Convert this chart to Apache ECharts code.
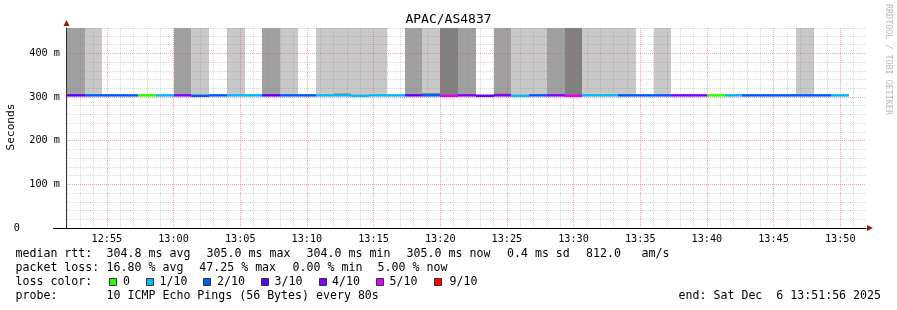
<!DOCTYPE html>
<html>
<head>
<meta charset="utf-8">
<script src="https://cdn.jsdelivr.net/npm/echarts@6/dist/echarts.min.js"></script>
<style>
  html, body { margin: 0; padding: 0; background: #fff; }
  #main { width: 897px; height: 310px; }
</style>
</head>
<body>
<div id="main"></div>
<script>
// 80 s RRD steps, first one starting at 12:52:00 (seconds of day)
const firstStep = '12:52:00';
const stepSeconds = 80;
const axisStart = '12:51:56';
const axisEnd = '13:51:56';

// median rtt per step, ms
const medianMs = [305, 305, 305, 305, 305, 305, 305, 304, 305, 305,
                  305, 305, 305, 305, 305, 305, 304, 305, 305, 305,
                  305, 304, 305, 304, 305, 304, 305, 305, 304, 305,
                  305, 305, 305, 305, 305, 305, 305, 305, 305, 305,
                  305, 305, 305, 305];
// lost pings out of 10 per step
const lossPings = [3, 2, 2, 2, 0, 1, 4, 2, 2, 1,
                   1, 3, 2, 2, 1, 1, 1, 1, 1, 3,
                   2, 5, 4, 3, 4, 1, 2, 4, 5, 1,
                   1, 2, 2, 2, 4, 4, 0, 1, 2, 2,
                   2, 2, 2, 1];
// smoke shade per step: 0 none, 1 light, 2 medium, 3 dark
const smokeShade = [2, 1, 0, 0, 0, 0, 2, 1, 0, 1,
                    0, 2, 1, 0, 1, 1, 1, 1, 0, 2,
                    1, 3, 2, 0, 2, 1, 1, 2, 3, 1,
                    1, 1, 0, 1, 0, 0, 0, 0, 0, 0,
                    0, 1, 0, 0];
// highest ping per step where it shows above the median, ms (0 = none)
const topPingMs = [0, 0, 0, 0, 0, 0, 0, 0, 0, 0,
                   0, 0, 0, 0, 0, 308, 0, 0, 0, 0,
                   309, 0, 0, 0, 308, 0, 0, 0, 0, 0,
                   0, 0, 0, 0, 0, 0, 0, 0, 0, 0,
                   0, 0, 0, 0];

const timeLabels = ['12:55', '13:00', '13:05', '13:10', '13:15', '13:20',
                    '13:25', '13:30', '13:35', '13:40', '13:45', '13:50'];
const yLabelValues = [0, 100, 200, 300, 400];
const yMax = 458;

const lossBins = [0, 1, 2, 3, 4, 5, 9];
const lossNames = ['0', '1/10', '2/10', '3/10', '4/10', '5/10', '9/10'];
const lossColors = ['#26ff00', '#00b8ff', '#0059ff', '#5e00ff', '#7e00ff', '#dd00ff', '#ff0000'];
const shadeColors = [null, '#c8c8c8', '#a0a0a0', '#808080'];

const minorGrid = 'rgba(140,140,140,0.35)', majorGrid = 'rgba(230,80,80,0.5)';

function toSec(s) {
  const p = s.split(':').map(Number);
  return p[0] * 3600 + p[1] * 60 + (p[2] || 0);
}
function fmt(sec) {
  const h = Math.floor(sec / 3600), m = Math.floor(sec / 60) % 60;
  return String(h).padStart(2, '0') + ':' + String(m).padStart(2, '0');
}
function lossColor(n) {
  let c = lossColors[0];
  lossBins.forEach((b, i) => { if (n >= b) c = lossColors[i]; });
  return c;
}

const t0 = toSec(firstStep);
const xMin = toSec(axisStart), xMax = toSec(axisEnd);

let minuteTicks = [];
for (let t = Math.ceil(xMin / 60) * 60; t <= xMax; t += 60) minuteTicks.push(t);
// colour index 0 is the first minute tick; every 5th minute is red
const firstRed = minuteTicks.findIndex(t => t % 300 === 0);
let xGridColors = [minorGrid, minorGrid, minorGrid, minorGrid, minorGrid];
xGridColors[firstRed % 5] = majorGrid;

let smokeData = [], bandData = [], lineData = [];
medianMs.forEach((v, i) => {
  const s = t0 + i * stepSeconds, e = s + stepSeconds;
  if (smokeShade[i]) smokeData.push([s, e, v, smokeShade[i]]);
  if (topPingMs[i]) bandData.push([s, e, v, topPingMs[i]]);
  lineData.push([s, e, v, lossPings[i]]);
});

function rectBetween(api, x0, x1, y0, y1) {
  const a = api.coord([x0, y1]), b = api.coord([x1, y0]);
  const left = Math.round(a[0]), right = Math.round(b[0]);
  return { x: left, y: a[1], width: right - left, height: b[1] - a[1] };
}

const chart = echarts.init(document.getElementById('main'));
const mono = 'DejaVu Sans Mono';

let graphics = [];
function txt(x, y, s, align) {
  graphics.push({
    type: 'text', x: x, y: y, silent: true,
    style: { text: s, font: '11.6px "DejaVu Sans Mono"', fill: '#000',
             align: align || 'left', verticalAlign: 'middle' }
  });
}
txt(15.5, 254, 'median rtt:');
txt(106.6, 254, '304.8 ms avg');
txt(206.6, 254, '305.0 ms max');
txt(306.6, 254, '304.0 ms min');
txt(406.6, 254, '305.0 ms now');
txt(507, 254, '0.4 ms sd');
txt(586, 254, '812.0');
txt(641.6, 254, 'am/s');
txt(15.5, 268, 'packet loss:');
txt(106.6, 268, '16.80 % avg');
txt(199.3, 268, '47.25 % max');
txt(292.6, 268, '0.00 % min');
txt(377.6, 268, '5.00 % now');
txt(15.5, 282, 'loss color:');
const boxX = [109, 146, 203, 261, 319, 376, 434];
const boxLabelX = [123, 159.5, 217, 274.6, 332, 389.6, 449.6];
lossNames.forEach((n, i) => {
  graphics.push({ type: 'rect', silent: true,
    shape: { x: boxX[i] + 0.5, y: 278.5, width: 7, height: 7 },
    style: { fill: lossColors[i], stroke: '#333', lineWidth: 1 } });
  txt(boxLabelX[i], 282, n);
});
txt(15.5, 296, 'probe:');
txt(106.6, 296, '10 ICMP Echo Pings (56 Bytes) every 80s');
txt(881, 296, 'end: Sat Dec  6 13:51:56 2025', 'right');
// y axis title
graphics.push({ type: 'text', silent: true, x: 11, y: 127, rotation: Math.PI / 2,
  style: { text: 'Seconds', font: '11.2px "DejaVu Sans Mono"', fill: '#000',
           align: 'center', verticalAlign: 'middle' } });
// rrdtool watermark
graphics.push({ type: 'text', silent: true, x: 888.5, y: 4, rotation: -Math.PI / 2,
  style: { text: 'RRDTOOL / TOBI OETIKER', font: '8.4px "DejaVu Sans Mono"', fill: '#b8b8b8',
           align: 'left', verticalAlign: 'middle' } });
// axis arrows
graphics.push({ type: 'polygon', silent: true,
  shape: { points: [[63.5, 26], [69.5, 26], [66.5, 20]] }, style: { fill: '#8b1a1a' } });
graphics.push({ type: 'polygon', silent: true,
  shape: { points: [[867, 225], [867, 231], [873, 228]] }, style: { fill: '#8b1a1a' } });
graphics.push({ type: 'line', silent: true,
  shape: { x1: 53, y1: 228.5, x2: 67, y2: 228.5 }, style: { stroke: '#000', lineWidth: 1 } });

const option = {
  animation: false,
  backgroundColor: '#fff',
  title: {
    text: 'APAC/AS4837', left: 'center', top: 13, padding: 0,
    textStyle: { fontFamily: mono, fontSize: 13, fontWeight: 'normal', color: '#000' }
  },
  grid: { left: 66, right: 31, top: 28, bottom: 82, outerBoundsMode: 'none', containLabel: false },
  xAxis: {
    type: 'value', min: xMin, max: xMax,
    axisLine: { show: true, onZero: false, lineStyle: { color: '#000', width: 1 } },
    axisTick: { show: false, customValues: minuteTicks },
    axisLabel: {
      customValues: timeLabels.map(toSec), formatter: v => fmt(v), margin: 6,
      fontFamily: mono, fontSize: 10.2, color: '#000'
    },
    splitLine: { show: true, lineStyle: { color: xGridColors, type: [1, 1], width: 1 } }
  },
  yAxis: {
    type: 'value', min: 0, max: yMax, interval: 20,
    axisLine: { show: true, lineStyle: { color: '#333', width: 1 } },
    axisTick: { show: false },
    axisLabel: {
      margin: 6, fontFamily: mono, fontSize: 10.2, color: '#000',
      formatter: v => {
        if (!yLabelValues.includes(v)) return '';
        return v === 0 ? '{z|0}' : v + ' m';
      },
      rich: { z: { fontFamily: mono, fontSize: 10.2, color: '#000', padding: [0, 40, 0, 0] } }
    },
    splitLine: {
      show: true,
      lineStyle: { color: [majorGrid, minorGrid, minorGrid, minorGrid, minorGrid], type: [1, 1], width: 1 }
    }
  },
  graphic: graphics,
  series: [
    {
      type: 'custom', z: -1, silent: true,
      encode: { x: [0, 1], y: 2 },
      data: smokeData,
      renderItem: (params, api) => ({
        type: 'rect',
        shape: rectBetween(api, api.value(0), api.value(1), api.value(2), yMax),
        style: { fill: shadeColors[api.value(3)] }
      })
    },
    {
      type: 'custom', z: 3, silent: true,
      encode: { x: [0, 1], y: [2, 3] },
      data: bandData,
      renderItem: (params, api) => ({
        type: 'rect',
        shape: rectBetween(api, api.value(0), api.value(1), api.value(2), api.value(3)),
        style: { fill: '#808080' }
      })
    },
    {
      type: 'custom', z: 4, silent: true,
      encode: { x: [0, 1], y: 2 },
      data: lineData,
      renderItem: (params, api) => {
        const r = rectBetween(api, api.value(0), api.value(1), api.value(2), api.value(2));
        return {
          type: 'rect',
          shape: { x: r.x, y: r.y - 0.7, width: r.width, height: 2.5 },
          style: { fill: lossColor(api.value(3)) }
        };
      }
    }
  ]
};
chart.setOption(option);
</script>
</body>
</html>
